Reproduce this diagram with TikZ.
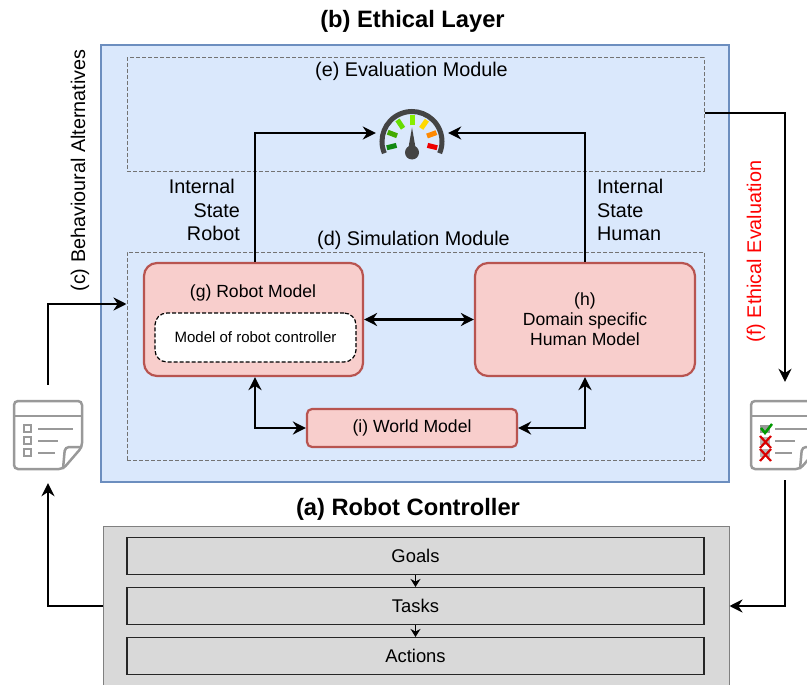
\documentclass[tikz,border=0pt]{standalone}
\usepackage{fontspec}
\setmainfont{Liberation Sans}
\usetikzlibrary{arrows.meta}

\definecolor{layerblue}{HTML}{DAE8FC}
\definecolor{layerline}{HTML}{6C8EBF}
\definecolor{modelpink}{HTML}{F8CECC}
\definecolor{modelline}{HTML}{B85450}
\definecolor{ctrlgray}{HTML}{D9D9D9}
\definecolor{iconDark}{HTML}{444444}
\definecolor{iconGray}{HTML}{999999}
\definecolor{tickA}{HTML}{118811}
\definecolor{tickB}{HTML}{44AA00}
\definecolor{tickC}{HTML}{66DD00}
\definecolor{tickD}{HTML}{88EE00}
\definecolor{tickE}{HTML}{FFD800}
\definecolor{tickF}{HTML}{FF8800}
\definecolor{tickG}{HTML}{EE0000}

\tikzset{
    layerbox/.style={draw=layerline, line width=2.4pt, fill=layerblue, minimum width=628pt, minimum height=437pt},
    modulebox/.style={draw=black!55, dash pattern=on 4pt off 2pt, line width=1pt, minimum width=577pt},
    modelbox/.style={draw=modelline, line width=2.2pt, fill=modelpink, rounded corners=13pt, align=center, font=\fontsize{17.6}{20}\selectfont},
    ctrlbox/.style={draw=black!85, line width=1.1pt, fill=ctrlgray, minimum width=577pt, minimum height=37pt, font=\fontsize{18.4}{20}\selectfont},
    flowarrow/.style={line width=2.4pt, -{Stealth[length=13pt,width=13pt]}},
    twoway/.style={line width=2.4pt, {Stealth[length=13pt,width=13pt]}-{Stealth[length=13pt,width=13pt]}},
    smallarrow/.style={line width=1.8pt, -{Stealth[length=8pt,width=10pt]}},
    sidetext/.style={font=\fontsize{19.8}{23.5}\selectfont},
    heading/.style={font=\fontsize{23.7}{28}\selectfont\bfseries},
    docicon/.pic={
        \draw[iconGray, line width=2.5pt, rounded corners=4pt] (-34,-34) -- (34,-34) -- (34,12) -- (15,34) -- (-34,34) -- cycle;
        \draw[iconGray, line width=2.5pt] (-34,-19) -- (34,-19);
        \draw[iconGray, line width=2.5pt, rounded corners=4pt] (34,12) -- (17,12) -- (15,34);
    }
}

\begin{document}
\begin{tikzpicture}[x=1pt, y=-1pt]
\clip (0,0) rectangle (807,685);

% Headings
\node[heading] (ethicaltitle) at (412.5,21) {(b) Ethical Layer};
\node[heading] (ctrltitle) at (408,509) {(a) Robot Controller};

% Ethical layer
\node[layerbox] (layer) at (415,263.5) {};
\node[modulebox, minimum height=113pt] (evalmod) at (415.5,114.5) {};
\node[modulebox, minimum height=208pt] (simmod) at (415.5,356) {};
\node[sidetext] (evaltext) at (411.5,71) {(e) Evaluation Module};
\node[sidetext] (simtext) at (413.5,240) {(d) Simulation Module};

% Models
\node[modelbox, minimum width=219pt, minimum height=113pt] (robot) at (253.5,319.5) {};
\node[modelbox, minimum width=220pt, minimum height=113pt] (human) at (585,319.5) {(h)\\Domain specific\\Human Model};
\node[modelbox, rounded corners=5pt, minimum width=210pt, minimum height=38pt] (world) at (412,428) {(i) World Model};
\node[font=\fontsize{17.6}{20}\selectfont] (robottext) at (253,293) {(g) Robot Model};
\node[draw, dash pattern=on 4pt off 2pt, line width=1.2pt, fill=white, rounded corners=12pt, minimum width=201pt, minimum height=49pt, font=\fontsize{15}{18}\selectfont] (ctrlmodel) at (255.5,337.5) {Model of robot controller};

% Gauge
\node[minimum width=72pt, minimum height=50pt] (gauge) at (412,133) {};
\begin{scope}[shift={(412,141.5)}]
    \draw[iconDark, line width=5pt] (157:30) arc[start angle=157, end angle=383, radius=30];
    \foreach \ang/\col in {166/tickA, 201/tickB, 236/tickC, 270/tickD, 305/tickE, 340/tickF, 374/tickG} {
        \draw[\col, line width=5pt] (\ang:16) -- (\ang:26);
    }
    \fill[iconDark] (0,-14) -- (3.5,6) -- (-3.5,6) -- cycle;
    \fill[iconDark] (0,11) circle (7);
\end{scope}

% Side labels
\node[sidetext, anchor=east, align=right, inner sep=0pt] (internalrobot) at (240,210) {Internal\hspace*{5pt}\\State\\Robot};
\node[sidetext, anchor=west, align=left, inner sep=0pt] (internalhuman) at (597,210) {Internal\\State\\Human};
\node[sidetext, rotate=90] (alttext) at (80,170.5) {(c) Behavioural Alternatives};
\node[sidetext, rotate=90, red] (evalsidetext) at (756,251.5) {(f) Ethical Evaluation};

% Robot controller
\node[draw=black!50, line width=1pt, fill=ctrlgray, minimum width=626pt, minimum height=198pt] (ctrl) at (416,625) {};
\node[ctrlbox] (goals) at (415.5,556) {Goals};
\node[ctrlbox] (tasks) at (415.5,606) {Tasks};
\node[ctrlbox] (actions) at (415.5,656) {Actions};
\draw[smallarrow] (goals) -- (tasks);
\draw[smallarrow] (tasks) -- (actions);

% Documents
\node[minimum width=70pt, minimum height=98pt] (docleft) at (48,434) {};
\node[minimum width=70pt, minimum height=98pt] (docright) at (785,431) {};
\pic at (48,435) {docicon};
\pic at (785,435) {docicon};
\foreach \y/\len in {-6/35, 6/20, 18/17} {
    \draw[iconGray, line width=2.5pt] (38,435+\y) -- (38+\len,435+\y);
    \draw[iconGray, line width=2.5pt] (775,435+\y) -- (775+\len,435+\y);
}
\foreach \y in {-6,6,18} {
    \draw[iconGray, line width=2.5pt] (24,431+\y) rectangle (31,438+\y);
}
\fill[iconGray] (760,425) rectangle (770,433);
\fill[iconGray!70] (760,437) rectangle (770,445);
\fill[iconGray!70] (760,449) rectangle (770,457);
\draw[green!60!black, line width=2.5pt] (761,428) -- (765,433) -- (772,424);
\foreach \y in {442,455} {
    \draw[red!85!black, line width=2.2pt] (760,\y-6) -- (771,\y+6);
    \draw[red!85!black, line width=2.2pt] (771,\y-6) -- (760,\y+6);
}

% Connectors
\coordinate (simin) at (simmod.west |- 0,304);
\coordinate (evalout) at (evalmod.east |- 0,113);
\draw[flowarrow] ([xshift=1.5pt]robot.north) |- (gauge.west);
\draw[flowarrow] (human.north) |- (gauge.east);
\draw[twoway] (robot) -- (human);
\draw[twoway] ([xshift=1.5pt]robot.south) |- (world.west);
\draw[twoway] (human.south) |- (world.east);
\draw[flowarrow] (docleft.north) |- (simin);
\draw[flowarrow] (ctrl.west |- tasks) -| (docleft.south);
\draw[flowarrow] (evalout) -| (docright.north);
\draw[flowarrow] (docright.south) |- (ctrl.east |- tasks);
\end{tikzpicture}
\end{document}
